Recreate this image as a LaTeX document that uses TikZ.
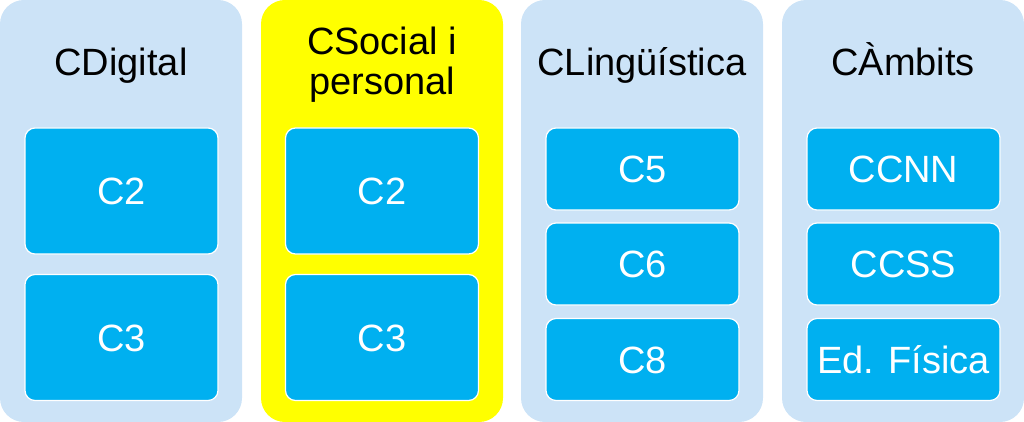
\documentclass[tikz,border=0pt]{standalone}
\usepackage{fontspec}
\setmainfont{Liberation Sans}
\definecolor{mylightblue}{RGB}{204,227,247}
\definecolor{mycyan}{RGB}{0,176,240}
\definecolor{myyellow}{RGB}{255,255,0}
\tikzset{
  col/.style={rounded corners=24pt,minimum width=242pt,minimum height=422pt,inner sep=0,outer sep=0},
  col blue/.style={col,fill=mylightblue},
  col yellow/.style={col,fill=myyellow},
  title/.style={font=\fontsize{38}{40}\selectfont,align=center,text=black,anchor=base},
  cell/.style={rounded corners=10pt,fill=mycyan,draw=white,line width=1.2pt,text=white,
    font=\fontsize{38}{40}\selectfont,text height=27pt,text depth=0pt,minimum width=193pt,inner sep=0},
  cell big/.style={cell,minimum height=126pt}, % two cells per column
  cell small/.style={cell,minimum height=82pt}  % three cells per column
}

\begin{document}
\begin{tikzpicture}[x=1pt,y=-1pt]
\useasboundingbox (0,0) rectangle (1024,422);
\path
(121,211)     node[col blue]   (digital) {}
(121,76)      node[title]      (digital title) {CDigital}
(121.5,191)   node[cell big]   (digital c2) {C2}
(121.5,337.5) node[cell big]   (digital c3) {C3};
\path
(382,211)     node[col yellow] (social) {}
(382,95)      node[title]      (social title) {CSocial i\\personal}
(382,191)     node[cell big]   (social c2) {C2}
(382,337.5)   node[cell big]   (social c3) {C3};
\path
(642,211)     node[col blue]   (ling) {}
(642,76)      node[title]      (ling title) {CLingüística}
(642.5,169)   node[cell small] (ling c5) {C5}
(642.5,264)   node[cell small] (ling c6) {C6}
(642.5,359.5) node[cell small] (ling c8) {C8};
\path
(903,211)     node[col blue]   (ambits) {}
(903,76)      node[title]      (ambits title) {CÀmbits}
(903.5,169)   node[cell small] (ambits ccnn) {CCNN}
(903.5,264)   node[cell small] (ambits ccss) {CCSS}
(903.5,359.5) node[cell small] (ambits ef) {Ed. Física};
\end{tikzpicture}
\end{document}
